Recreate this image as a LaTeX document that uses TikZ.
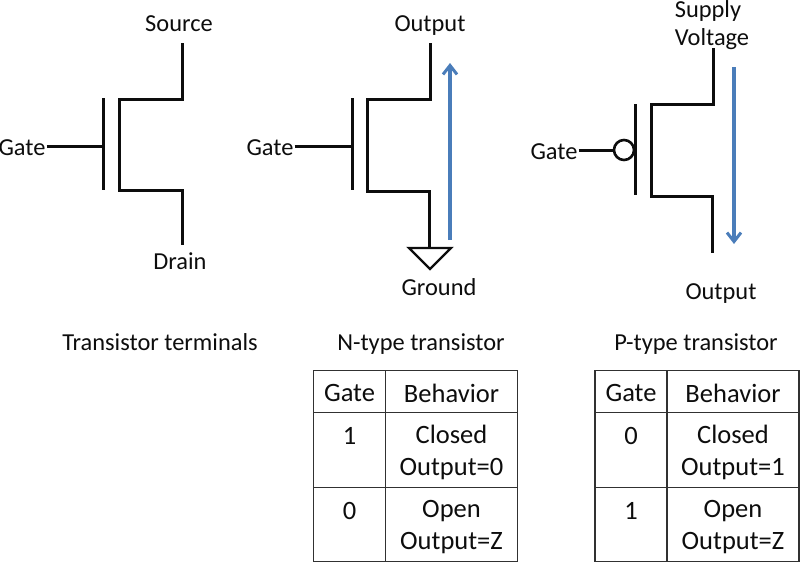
\documentclass[tikz,border=0pt]{standalone}
\usepackage{fontspec}
\usetikzlibrary{arrows.meta}
\setmainfont{Carlito}
\definecolor{pfeil}{rgb}{0.29, 0.49, 0.73}
\definecolor{strich}{rgb}{0.05, 0.05, 0.05}

\begin{document}
\begin{tikzpicture}[
		x=1pt, y=-1pt,
		every node/.style = {align=center, inner sep=1pt, text=strich, font=\fontsize{24.4}{28}\selectfont},
		wire/.style = {draw=strich, line width=3pt, line cap=butt, line join=miter},
		flow/.style = {draw=pfeil, line width=3.4pt, -{Straight Barb[length=9pt,width=14pt,line width=3pt]}},
		grid/.style = {draw=strich!85, line width=1.5pt},
		cell/.style = {align=center, font=\fontsize{26.5}{32}\selectfont}]
		\useasboundingbox (0,0) rectangle (800,563);

		% transistor terminals
		\node (gateA) at (22,148) {Gate};
		\node (sourceA) at (179,24) {Source};
		\node (drainA) at (180,261) {Drain};
		\coordinate (barA) at (103,146);
		\coordinate (topA) at (182,43);
		\coordinate (botA) at (182,245);
		\draw[wire] (gateA.east |- barA) -- (barA);
		\draw[wire] (103,98) -- (103,190);
		\draw[wire] (topA) |- (119,99) -- (119,190) -| (botA);

		% n-type
		\node (gateB) at (270,148) {Gate};
		\node (outB) at (430,26) {Output};
		\node (groundB) at (439,287) {Ground};
		\coordinate (barB) at (352,146);
		\coordinate (topB) at (430,43);
		\coordinate (botB) at (429,248);
		\draw[wire] (gateB.east |- barB) -- (barB);
		\draw[wire] (352,98) -- (352,190);
		\draw[wire] (topB) |- (367,99) -- (367,191) -| (botB);
		\draw[wire, line width=2.4pt] (409,248) -- (451,248) -- (430,269) -- cycle;
		\draw[flow] (450,240) -- (450,63);

		% p-type
		\node (gateC) at (554,152) {Gate};
		\node (supplyC) at (708,11) {Supply};
		\node (voltC) at (712,39) {Voltage};
		\node (outC) at (721,294) {Output};
		\node (bubC) [circle, draw=strich, line width=2.6pt, minimum size=20pt, inner sep=0pt] at (624,150) {};
		\coordinate (topC) at (713,48);
		\coordinate (botC) at (712,253);
		\draw[wire] (gateC.east |- bubC) -- (bubC);
		\draw[wire] (635,104) -- (635,195);
		\draw[wire] (topC) |- (651,104) -- (651,196) -| (botC);
		\draw[flow] (734,67) -- (734,244);

		% captions
		\node (capA) at (160,342) {Transistor terminals};
		\node (capB) at (421,344) {N-type transistor};
		\node (capC) at (696,344) {P-type transistor};

		% tables
		\foreach \tx/\first/\second/\out in {313.5/1/0/0, 595/0/1/1} {
			\draw[grid] (\tx,370.5) rectangle (\tx+204,561.5);
			\draw[grid] (\tx+72,370.5) -- (\tx+72,561.5);
			\draw[grid] (\tx,412.5) -- (\tx+204,412.5);
			\draw[grid] (\tx,487.5) -- (\tx+204,487.5);
			\node[cell] at (\tx+36,393) {Gate};
			\node[cell] at (\tx+138,393) {Behavior};
			\node[cell] at (\tx+36,436) {\first};
			\node[cell] at (\tx+138,452) {Closed\\Output=\out};
			\node[cell] at (\tx+36,511) {\second};
			\node[cell] at (\tx+138,527) {Open\\Output=Z};
		}
	\end{tikzpicture}
\end{document}
